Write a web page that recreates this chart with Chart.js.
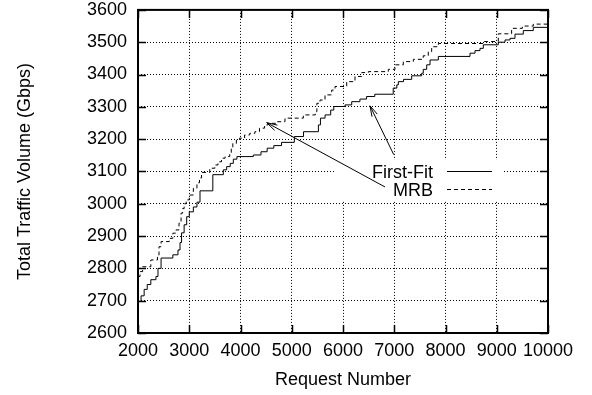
<!DOCTYPE html>
<html><head><meta charset="utf-8">
<script src="https://cdn.jsdelivr.net/npm/chart.js@4/dist/chart.umd.min.js"></script>
<style>html,body{margin:0;padding:0;background:#fff;}#wrap{width:592px;height:395px;}</style>
</head><body><div id="wrap"><canvas id="c" width="592" height="395"></canvas></div>
<script>
// ---- data ----
const seriesNames = ['First-Fit', 'MRB'];
const firstFitX = [2000,2060,2120,2180,2250,2350,2390,2450,2680,2780,2820,2850,2900,2950,3000,3080,3150,3210,3460,3665,3730,3800,3860,3930,4250,4400,4520,4650,4800,5050,5230,5520,5560,5650,5760,5820,6040,6170,6330,6460,6620,6980,7050,7080,7180,7340,7535,7566,7633,7698,7860,8478,8576,8673,8738,9030,9161,9259,9356,9518,9713,10000];
const firstFitY = [2698,2715,2735,2750,2765,2775,2800,2832,2842,2857,2880,2910,2935,2960,2975,2990,3005,3040,3090,3105,3115,3125,3138,3146,3151,3161,3172,3180,3190,3208,3223,3244,3265,3275,3290,3301,3306,3316,3324,3332,3339,3358,3368,3378,3385,3396,3404,3416,3430,3445,3456,3466,3474,3481,3492,3500,3507,3512,3525,3536,3546,3546];
const mrbX = [2000,2040,2090,2250,2380,2410,2450,2610,2680,2740,2800,2840,2870,2900,2940,3000,3080,3150,3200,3240,3400,3500,3560,3630,3700,3790,3820,3850,3920,3980,4080,4180,4280,4370,4470,4540,4707,4868,5226,5460,5490,5551,5649,5780,5844,6072,6234,6365,6494,6884,7015,7177,7372,7566,7664,7730,7860,8732,9030,9290,9500,9713,10000];
const mrbY = [2775,2790,2805,2826,2841,2867,2883,2893,2909,2919,2940,2971,2985,3000,3012,3027,3048,3065,3080,3097,3110,3120,3130,3141,3146,3156,3172,3187,3198,3203,3213,3218,3223,3234,3244,3249,3254,3265,3275,3285,3311,3321,3337,3352,3363,3378,3394,3406,3409,3416,3430,3440,3447,3458,3471,3486,3496,3502,3526,3543,3550,3556,3556];
const xTicks = [2000,3000,4000,5000,6000,7000,8000,9000,10000];
const yTicks = [2600,2700,2800,2900,3000,3100,3200,3300,3400,3500,3600];
const xTitle = 'Request Number';
const yTitle = 'Total Traffic Volume (Gbps)';
// arrow annotations (data coordinates): [tipX, tipY, tailX, tailY]
const arrowMRB = [4511, 3251, 6820, 3052];
const arrowFF = [6527, 3303, 6990, 3152];

const FONT = '"Liberation Sans", Arial, Helvetica, sans-serif';
Chart.defaults.color = '#000';
Chart.defaults.font.family = FONT;

const toPts = (xs, ys) => xs.map((x, i) => ({x: x, y: ys[i]}));

function drawArrow(ctx, xs, ys, a) {
  const tx = xs.getPixelForValue(a[0]), ty = ys.getPixelForValue(a[1]);
  const sx = xs.getPixelForValue(a[2]), sy = ys.getPixelForValue(a[3]);
  ctx.beginPath();
  ctx.moveTo(sx, sy); ctx.lineTo(tx, ty);
  const ang = Math.atan2(sy - ty, sx - tx);
  const L = 11, w = 0.27;
  ctx.moveTo(tx + L * Math.cos(ang + w), ty + L * Math.sin(ang + w));
  ctx.lineTo(tx, ty);
  ctx.lineTo(tx + L * Math.cos(ang - w), ty + L * Math.sin(ang - w));
  ctx.stroke();
}

const framePlugin = {
  id: 'frame',
  beforeDatasetsDraw(chart) {
    const ctx = chart.ctx;
    ctx.save();
    ctx.fillStyle = '#fff';
    ctx.fillRect(336, 160, 166, 41);
    ctx.restore();
  },
  afterDraw(chart) {
    const ctx = chart.ctx, a = chart.chartArea;
    const xs = chart.scales.x, ys = chart.scales.y;
    ctx.save();
    ctx.strokeStyle = '#000';
    // legend
    ctx.font = '18px ' + FONT;
    ctx.fillStyle = '#000';
    ctx.textAlign = 'right';
    ctx.textBaseline = 'alphabetic';
    ctx.fillText(seriesNames[0], 433, 177.5);
    ctx.fillText(seriesNames[1], 433, 195.5);
    ctx.lineWidth = 1;
    ctx.beginPath(); ctx.moveTo(447, 171.5); ctx.lineTo(492, 171.5); ctx.stroke();
    ctx.setLineDash([4, 3]);
    ctx.beginPath(); ctx.moveTo(447, 189.5); ctx.lineTo(492, 189.5); ctx.stroke();
    ctx.setLineDash([]);
    // arrows
    drawArrow(ctx, xs, ys, arrowMRB);
    drawArrow(ctx, xs, ys, arrowFF);
    // inward ticks
    ctx.lineWidth = 1.5;
    ctx.beginPath();
    const T = 8;
    xTicks.forEach(v => {
      const px = Math.round(xs.getPixelForValue(v)) + 0.5;
      ctx.moveTo(px, a.bottom); ctx.lineTo(px, a.bottom - T);
      ctx.moveTo(px, a.top); ctx.lineTo(px, a.top + T);
    });
    yTicks.forEach(v => {
      const py = Math.round(ys.getPixelForValue(v)) + 0.5;
      ctx.moveTo(a.left, py); ctx.lineTo(a.left + T, py);
      ctx.moveTo(a.right, py); ctx.lineTo(a.right - T, py);
    });
    ctx.stroke();
    // border
    ctx.lineWidth = 2;
    ctx.strokeRect(a.left, a.top, a.right - a.left, a.bottom - a.top);
    ctx.restore();
  }
};

new Chart(document.getElementById('c'), {
  type: 'line',
  data: {
    datasets: [
      {label: seriesNames[0], data: toPts(firstFitX, firstFitY), stepped: true, borderColor: '#000', borderWidth: 1, pointRadius: 0, fill: false},
      {label: seriesNames[1], data: toPts(mrbX, mrbY), stepped: true, borderColor: '#000', borderWidth: 1, borderDash: [4, 3], pointRadius: 0, fill: false}
    ]
  },
  options: {
    responsive: false,
    animation: false,
    devicePixelRatio: 1,
    layout: {padding: {left: 0, right: 44, top: 0, bottom: 0}},
    plugins: {legend: {display: false}, tooltip: {enabled: false}},
    scales: {
      x: {
        type: 'linear', min: 2000, max: 10000,
        afterBuildTicks: s => { s.ticks = xTicks.map(v => ({value: v})); },
        afterFit: s => { s.height = 62; },
        ticks: {font: {size: 18}, color: '#000', padding: 7, maxRotation: 0, autoSkip: false, callback: v => String(v)},
        grid: {color: '#000', lineWidth: 1, drawTicks: false},
        border: {display: false, dash: [1, 2]},
        title: {display: true, text: xTitle, font: {size: 18}, color: '#000', padding: {top: 0, bottom: 4}}
      },
      y: {
        type: 'linear', min: 2600, max: 3600,
        afterBuildTicks: s => { s.ticks = yTicks.map(v => ({value: v})); },
        afterFit: s => { s.width = 138; },
        ticks: {font: {size: 18, lineHeight: 1.1}, color: '#000', padding: 0, autoSkip: false, callback: v => String(v)},
        grid: {color: '#000', lineWidth: 1, drawTicks: true, tickLength: 11, tickColor: 'rgba(0,0,0,0)'},
        border: {display: false, dash: [1, 2]},
        title: {display: true, text: yTitle, font: {size: 18}, color: '#000', padding: {top: 14, bottom: 14}}
      }
    }
  },
  plugins: [framePlugin]
});
</script>
</body></html>
